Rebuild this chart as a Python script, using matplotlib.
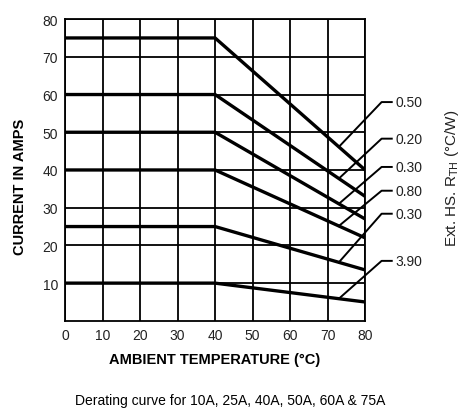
import numpy as np
import matplotlib.pyplot as plt

plt.rcParams['font.family'] = ['Liberation Sans Narrow', 'Liberation Sans', 'DejaVu Sans']

# derating curves: flat up to 40 degC, then linear down to 80 degC
temps = [0, 40, 80]
i_75 = [75, 75, 40]
i_60 = [60, 60, 33]
i_50 = [50, 50, 27]
i_40 = [40, 40, 22]
i_25 = [25, 25, 13.5]
i_10 = [10, 10, 5]
curves = [i_75, i_60, i_50, i_40, i_25, i_10]

rth_labels = ['0.50', '0.20', '0.30', '0.80', '0.30', '3.90']
label_y = [58, 48.3, 40.8, 34.5, 28.4, 15.9]

fig = plt.figure(figsize=(4.61, 4.10), dpi=100)
ax = fig.add_axes([0.141, 0.215, 0.651, 0.736])

for c in curves:
    ax.plot(temps, c, color='black', lw=2.4, solid_capstyle='butt', zorder=3)

ax.set_xlim(0, 80)
ax.set_ylim(0, 80)
ax.set_xticks(range(0, 81, 10))
ax.set_yticks(range(10, 81, 10))
ax.grid(True, color='black', lw=1.3)
ax.tick_params(length=0, labelsize=10, colors='#222222', pad=5)
for s in ax.spines.values():
    s.set_linewidth(1.3)

# leader lines from the curves to the Rth labels
x_hit = 73
for c, lab, ly in zip(curves, rth_labels, label_y):
    yh = np.interp(x_hit, temps, c)
    ax.plot([x_hit, 84.4, 87.1], [yh, ly, ly], color='black', lw=1.4,
            clip_on=False, zorder=4)
    ax.text(88.0, ly, lab, fontsize=10, va='center', ha='left', color='#222222')

ax.set_xlabel('AMBIENT TEMPERATURE (°C)', fontsize=10.5, fontweight='bold')
ax.xaxis.set_label_coords(0.5, -0.126)
ax.xaxis.label.set_va('center')
ax.set_ylabel('CURRENT IN AMPS', fontsize=10.5, fontweight='bold')
ax.yaxis.set_label_coords(-0.15, 0.447)
ax.yaxis.label.set_va('center')
fig.text(0.98, 0.566, 'Ext. HS. R$_\\mathrm{TH}$ (°C/W)', rotation=90,
         fontsize=11, ha='center', va='center', color='#222222')
fig.text(0.5, 0.022, 'Derating curve for 10A, 25A, 40A, 50A, 60A & 75A',
         fontsize=10, ha='center', va='center')

fig.savefig('out.png', dpi=100)
